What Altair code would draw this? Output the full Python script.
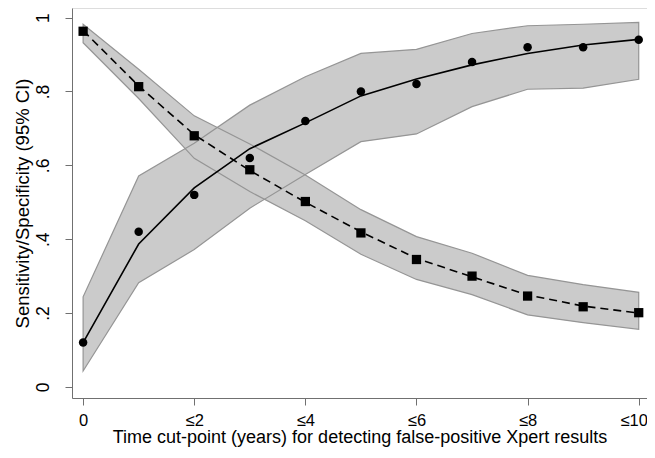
import altair as alt
import pandas as pd

# ---- data ----
x_vals = [0, 1, 2, 3, 4, 5, 6, 7, 8, 9, 10]

sens_obs = [0.12, 0.42, 0.52, 0.62, 0.72, 0.80, 0.82, 0.88, 0.92, 0.92, 0.94]
sens_fit = [0.12, 0.387, 0.539, 0.645, 0.715, 0.788, 0.834, 0.872, 0.903, 0.926, 0.941]
sens_lo = [0.043, 0.282, 0.372, 0.484, 0.575, 0.664, 0.685, 0.759, 0.806, 0.809, 0.833]
sens_hi = [0.244, 0.571, 0.66, 0.763, 0.84, 0.903, 0.914, 0.957, 0.978, 0.982, 0.987]

spec_obs = [0.963, 0.813, 0.68, 0.588, 0.502, 0.417, 0.345, 0.30, 0.246, 0.217, 0.201]
spec_fit = [0.965, 0.815, 0.683, 0.586, 0.50, 0.42, 0.348, 0.298, 0.249, 0.219, 0.20]
spec_lo = [0.932, 0.781, 0.619, 0.529, 0.45, 0.359, 0.291, 0.25, 0.195, 0.174, 0.156]
spec_hi = [0.982, 0.86, 0.734, 0.658, 0.574, 0.48, 0.407, 0.362, 0.302, 0.277, 0.256]

x_tick_values = [0, 2, 4, 6, 8, 10]
x_tick_labels = ["0", "≤2", "≤4", "≤6", "≤8", "≤10"]
y_tick_values = [0, 0.2, 0.4, 0.6, 0.8, 1]
y_tick_labels = ["0", ".2", ".4", ".6", ".8", "1"]

x_title = "Time cut-point (years) for detecting false-positive Xpert results"
y_title = "Sensitivity/Specificity (95% CI)"

# ---- tables ----
rows = []
for i, x in enumerate(x_vals):
    rows.append(dict(x=x, series="Sensitivity", obs=sens_obs[i], fit=sens_fit[i],
                     lo=sens_lo[i], hi=sens_hi[i]))
    rows.append(dict(x=x, series="Specificity", obs=spec_obs[i], fit=spec_fit[i],
                     lo=spec_lo[i], hi=spec_hi[i]))
df = pd.DataFrame(rows)

x_expr = "{" + ",".join(f"'{v}':'{l}'" for v, l in zip(x_tick_values, x_tick_labels)) + "}[''+datum.value]"
y_expr = "{" + ",".join(f"'{v}':'{l}'" for v, l in zip(y_tick_values, y_tick_labels)) + "}[''+datum.value]"

FONT = "Liberation Sans"
AX = "#707070"

x_enc = alt.X("x:Q", scale=alt.Scale(domain=[-0.2, 10.149], nice=False, zero=False),
              axis=alt.Axis(values=x_tick_values, labelExpr=x_expr, title=x_title,
                            grid=False, domainColor=AX, tickColor=AX, tickSize=7,
                            labelFont=FONT, labelFontSize=16.5, labelColor="black",
                            labelPadding=7, titleFont=FONT, titleFontSize=18,
                            titleFontWeight="normal", titleColor="black", titlePadding=0,
                            labelOffset={"condition": {"test": "datum.value == 10", "value": -5},
                                         "value": 0},
                            labelFlush=False))
y_scale = alt.Scale(domain=[-0.03, 1.026], nice=False, zero=False)
y_axis = alt.Axis(values=y_tick_values, labelExpr=y_expr, title=y_title, grid=False,
                  domainColor=AX, tickColor=AX, tickSize=7, labelAngle=270,
                  labelAlign="center", labelBaseline="bottom", labelPadding=13,
                  labelFont=FONT, labelFontSize=17.5, labelColor="black",
                  titleFont=FONT, titleFontSize=18.5, titleFontWeight="normal",
                  titleColor="black", titlePadding=2, labelFlush=False)

base = alt.Chart(df)

band_fill = base.mark_area(fill="#cbcbcb", strokeWidth=0).encode(
    x=x_enc, y=alt.Y("lo:Q", scale=y_scale, axis=y_axis), y2="hi:Q", detail="series:N"
)
band_edge = base.mark_area(fillOpacity=0, stroke="#959595", strokeWidth=1.2).encode(
    x="x:Q", y="lo:Q", y2="hi:Q", detail="series:N"
)
sens_line = base.transform_filter(alt.datum.series == "Sensitivity").mark_line(
    color="black", strokeWidth=1.6).encode(x="x:Q", y="fit:Q")
spec_line = base.transform_filter(alt.datum.series == "Specificity").mark_line(
    color="black", strokeWidth=1.6, strokeDash=[8, 5]).encode(x="x:Q", y="fit:Q")
sens_pts = base.transform_filter(alt.datum.series == "Sensitivity").mark_point(
    shape="circle", filled=True, color="black", opacity=1, size=72).encode(x="x:Q", y="obs:Q")
spec_pts = base.transform_filter(alt.datum.series == "Specificity").mark_point(
    shape="square", filled=True, color="black", opacity=1, size=86).encode(x="x:Q", y="obs:Q")

chart = alt.layer(band_fill, band_edge, sens_line, spec_line, sens_pts, spec_pts).properties(
    width=575, height=390,
    autosize=alt.AutoSizeParams(type="none"),
    padding={"left": 64, "top": 0, "right": 0, "bottom": 49},
).configure_view(stroke=None).configure(background="white")

chart.save("out.html", embed_options={"renderer": "svg", "actions": False})
